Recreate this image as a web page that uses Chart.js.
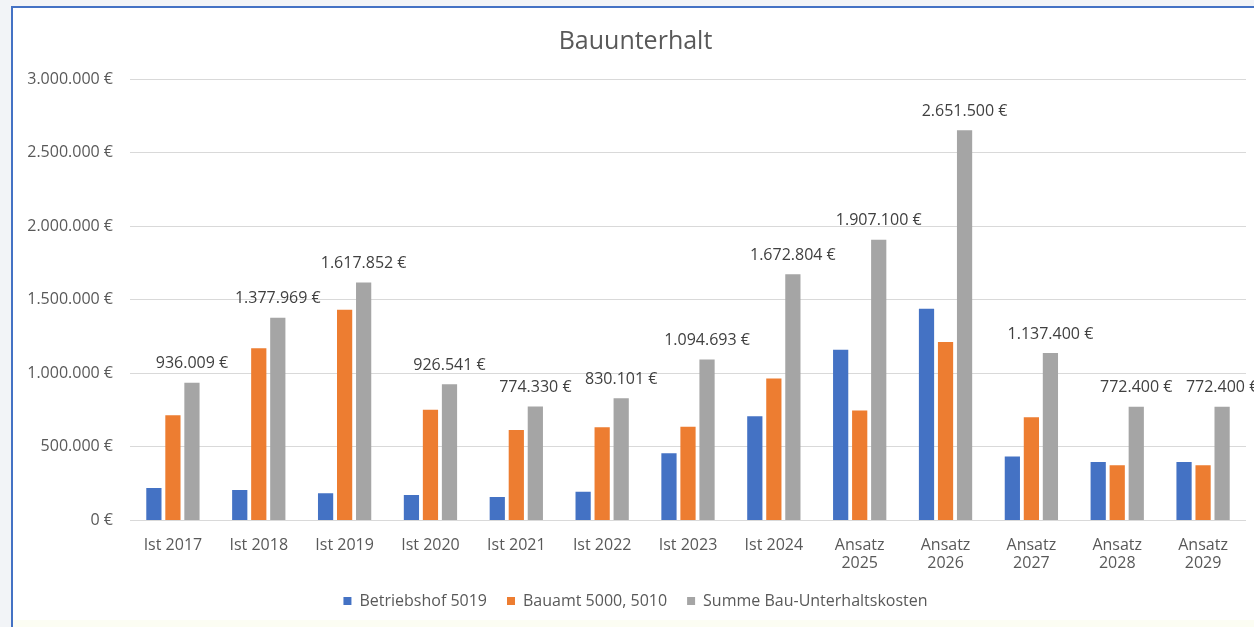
<!DOCTYPE html>
<html lang="de">
<head>
<meta charset="utf-8">
<title>Bauunterhalt</title>
<script src="https://cdn.jsdelivr.net/npm/chart.js@4/dist/chart.umd.min.js"></script>
<style>
    body { margin: 0; background: #f2f4f7; overflow: hidden; }
    #rahmen {
        position: absolute; left: 11px; top: 6px; width: 1243px; height: 621px;
        border-left: 2px solid #4472c4; border-top: 2px solid #4472c4;
        background: linear-gradient(to bottom, #fff 0, #fff 612px, #fcfdf3 612px);
    }
    #chartBox { position: relative; width: 1241px; height: 619px; }
</style>
</head>
<body>
<div id="rahmen">
    <div id="chartBox"><canvas id="bauChart"></canvas></div>
</div>
<script>
const kategorien = ['Ist 2017', 'Ist 2018', 'Ist 2019', 'Ist 2020', 'Ist 2021', 'Ist 2022', 'Ist 2023', 'Ist 2024',
    ['Ansatz', '2025'], ['Ansatz', '2026'], ['Ansatz', '2027'], ['Ansatz', '2028'], ['Ansatz', '2029']];

const betriebshof = [220000, 208000, 186000, 174000, 160000, 196000, 457000, 708000, 1160000, 1438000, 435000, 397000, 397000];
const bauamt = [716009, 1169969, 1431852, 752541, 614330, 634101, 637693, 964804, 747100, 1213500, 702400, 375400, 375400];
const summe = [936009, 1377969, 1617852, 926541, 774330, 830101, 1094693, 1672804, 1907100, 2651500, 1137400, 772400, 772400];

const yMax = 3000000;
const yStep = 500000;

function euro(v) {
    return String(Math.round(v)).replace(/\B(?=(\d{3})+(?!\d))/g, '.') + ' €';
}

// Beschriftung nur über den Summen-Balken
const summenLabels = {
    id: 'summenLabels',
    afterDatasetsDraw(chart) {
        const ctx = chart.ctx;
        const meta = chart.getDatasetMeta(2);
        ctx.save();
        ctx.font = '16px "Open Sans"';
        ctx.fillStyle = '#404040';
        ctx.textAlign = 'center';
        ctx.textBaseline = 'middle';
        meta.data.forEach((bar, i) => {
            ctx.fillText(euro(summe[i]), bar.x, bar.y - 19);
        });
        ctx.restore();
    }
};

Chart.defaults.font.family = '"Open Sans"';
Chart.defaults.color = '#595959';

new Chart(document.getElementById('bauChart'), {
    type: 'bar',
    data: {
        labels: kategorien,
        datasets: [
            { label: 'Betriebshof 5019', data: betriebshof, backgroundColor: '#4472c4' },
            { label: 'Bauamt 5000, 5010', data: bauamt, backgroundColor: '#ed7d31' },
            { label: 'Summe Bau-Unterhaltskosten', data: summe, backgroundColor: '#a5a5a5' }
        ]
    },
    options: {
        responsive: true,
        maintainAspectRatio: false,
        animation: false,
        datasets: { bar: { categoryPercentage: 0.665, barPercentage: 0.8 } },
        layout: { padding: { left: 12, right: 8, top: 0, bottom: 8 } },
        scales: {
            x: {
                afterFit: s => { s.height = 52.5; },
                grid: { display: false, drawTicks: false },
                border: { display: false },
                ticks: { font: { size: 16, lineHeight: 1.125 }, padding: 16, maxRotation: 0, autoSkip: false }
            },
            y: {
                min: 0,
                max: yMax,
                afterFit: s => { s.width = 105; },
                grid: { color: '#d9d9d9', drawTicks: false },
                border: { display: false },
                ticks: { stepSize: yStep, font: { size: 16 }, padding: 17, callback: v => euro(v) }
            }
        },
        plugins: {
            title: {
                display: true,
                text: 'Bauunterhalt',
                color: '#595959',
                font: { size: 25, weight: 'normal' },
                padding: { top: 19, bottom: 22 }
            },
            legend: {
                position: 'bottom',
                labels: { boxWidth: 8, boxHeight: 8, padding: 20, font: { size: 16 }, color: '#595959' }
            },
            tooltip: { enabled: false }
        }
    },
    plugins: [summenLabels]
});
</script>
</body>
</html>
